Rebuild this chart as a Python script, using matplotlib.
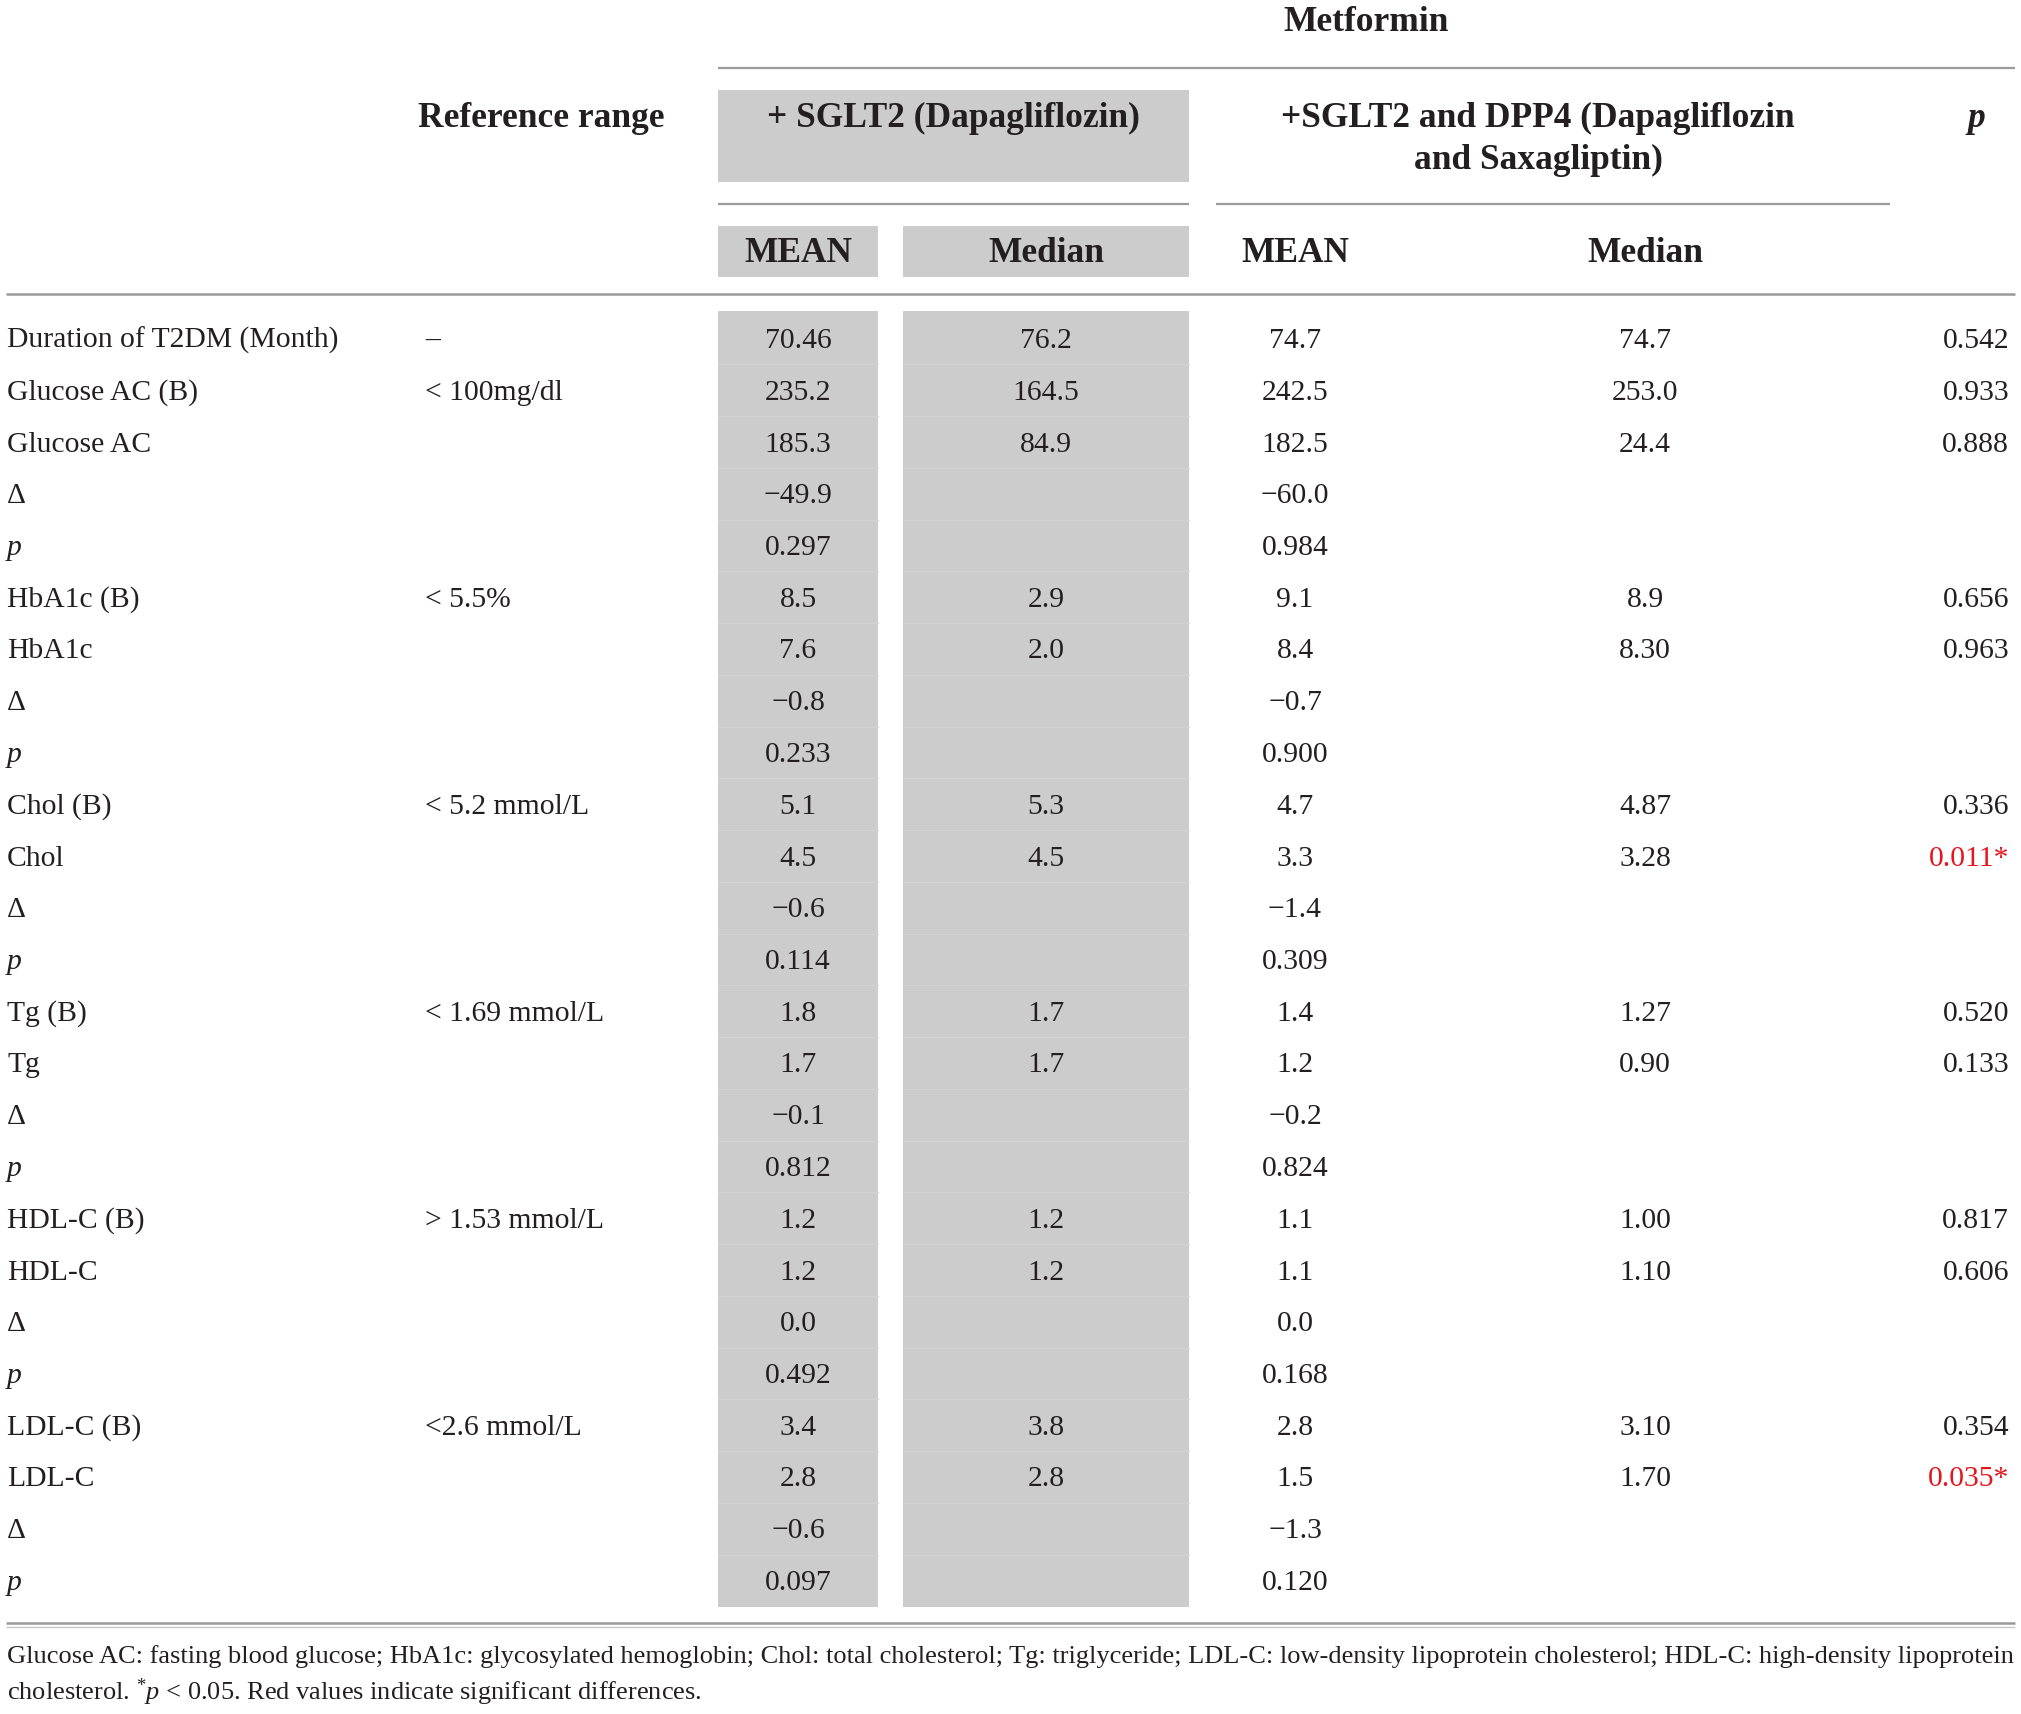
import matplotlib
matplotlib.use("Agg")
import matplotlib.pyplot as plt
from matplotlib.patches import Rectangle

plt.rcParams['font.family'] = ['Liberation Serif', 'DejaVu Serif']
plt.rcParams['mathtext.fontset'] = 'custom'
plt.rcParams['mathtext.rm'] = 'Liberation Serif'
plt.rcParams['mathtext.it'] = 'Liberation Serif:italic'

# ---------------- data ----------------
row_labels = ["Duration of T2DM (Month)", "Glucose AC (B)", "Glucose AC", "Δ", "p",
              "HbA1c (B)", "HbA1c", "Δ", "p",
              "Chol (B)", "Chol", "Δ", "p",
              "Tg (B)", "Tg", "Δ", "p",
              "HDL-C (B)", "HDL-C", "Δ", "p",
              "LDL-C (B)", "LDL-C", "Δ", "p"]
ref_range = ["–", "< 100mg/dl", "", "", "",
             "< 5.5%", "", "", "",
             "< 5.2 mmol/L", "", "", "",
             "< 1.69 mmol/L", "", "", "",
             "> 1.53 mmol/L", "", "", "",
             "<2.6 mmol/L", "", "", ""]
sglt2_mean = ["70.46", "235.2", "185.3", "−49.9", "0.297",
              "8.5", "7.6", "−0.8", "0.233",
              "5.1", "4.5", "−0.6", "0.114",
              "1.8", "1.7", "−0.1", "0.812",
              "1.2", "1.2", "0.0", "0.492",
              "3.4", "2.8", "−0.6", "0.097"]
sglt2_median = ["76.2", "164.5", "84.9", "", "",
                "2.9", "2.0", "", "",
                "5.3", "4.5", "", "",
                "1.7", "1.7", "", "",
                "1.2", "1.2", "", "",
                "3.8", "2.8", "", ""]
dual_mean = ["74.7", "242.5", "182.5", "−60.0", "0.984",
             "9.1", "8.4", "−0.7", "0.900",
             "4.7", "3.3", "−1.4", "0.309",
             "1.4", "1.2", "−0.2", "0.824",
             "1.1", "1.1", "0.0", "0.168",
             "2.8", "1.5", "−1.3", "0.120"]
dual_median = ["74.7", "253.0", "24.4", "", "",
               "8.9", "8.30", "", "",
               "4.87", "3.28", "", "",
               "1.27", "0.90", "", "",
               "1.00", "1.10", "", "",
               "3.10", "1.70", "", ""]
p_values = ["0.542", "0.933", "0.888", "", "",
            "0.656", "0.963", "", "",
            "0.336", "0.011*", "", "",
            "0.520", "0.133", "", "",
            "0.817", "0.606", "", "",
            "0.354", "0.035*", "", ""]

title_top = "Metformin"
hdr_ref = "Reference range"
hdr_g1 = "+ SGLT2 (Dapagliflozin)"
hdr_g2 = ["+SGLT2 and DPP4 (Dapagliflozin", "and Saxagliptin)"]
hdr_p = "p"
hdr_sub = ["MEAN", "Median", "MEAN", "Median"]
footnote = ["Glucose AC: fasting blood glucose; HbA1c: glycosylated hemoglobin; Chol: total cholesterol; "
            "Tg: triglyceride; LDL-C: low-density lipoprotein cholesterol; HDL-C: high-density lipoprotein",
            r"cholesterol. $^{*}\mathit{p}$ < 0.05. Red values indicate significant differences."]

# ---------------- layout ----------------
W, H = 2021, 1714
fig = plt.figure(figsize=(W / 100, H / 100), dpi=100)
ax = fig.add_axes([0, 0, 1, 1])
ax.set_xlim(0, W)
ax.set_ylim(H, 0)
ax.axis('off')

GRAY = '#cccccc'
LINE = '#9a9a9a'
TXT = '#231f20'
RED = '#e8141c'
HS = 25.5   # header font size
BS = 21.3   # body font size
FS = 19.0   # footnote font size

# column geometry
c_mean1 = (718, 878)
c_med1 = (903, 1189)
x_label = 7
x_ref = 425
x_mean2 = 1295
x_med2 = 1645
x_p_right = 2009

# header
ax.text(1366, 31, title_top, ha='center', va='baseline', fontsize=HS, fontweight='bold', color=TXT)
ax.plot([718, 2015], [68, 68], color=LINE, lw=1.6, solid_capstyle='butt')
ax.add_patch(Rectangle((c_mean1[0], 90), c_med1[1] - c_mean1[0], 92, color=GRAY, lw=0))
ax.text(541, 127, hdr_ref, ha='center', va='baseline', fontsize=HS, fontweight='bold', color=TXT)
ax.text((c_mean1[0] + c_med1[1]) / 2, 127, hdr_g1, ha='center', va='baseline', fontsize=HS,
        fontweight='bold', color=TXT)
ax.text(1538, 127, hdr_g2[0], ha='center', va='baseline', fontsize=HS, fontweight='bold', color=TXT)
ax.text(1538, 169, hdr_g2[1], ha='center', va='baseline', fontsize=HS, fontweight='bold', color=TXT)
ax.text(1976, 127, hdr_p, ha='center', va='baseline', fontsize=HS, fontweight='bold',
        fontstyle='italic', color=TXT)
ax.plot([c_mean1[0], c_med1[1]], [204, 204], color=LINE, lw=1.6, solid_capstyle='butt')
ax.plot([1216, 1890], [204, 204], color=LINE, lw=1.6, solid_capstyle='butt')
for (a, b) in (c_mean1, c_med1):
    ax.add_patch(Rectangle((a, 226), b - a, 51, color=GRAY, lw=0))
sub_x = [sum(c_mean1) / 2, sum(c_med1) / 2, x_mean2, x_med2]
for x, s in zip(sub_x, hdr_sub):
    ax.text(x, 262, s, ha='center', va='baseline', fontsize=HS, fontweight='bold', color=TXT)
ax.plot([6, 2015], [294, 294], color=LINE, lw=1.8, solid_capstyle='butt')

# body
n = len(row_labels)
y0, dy = 338.5, 51.75
body_top, body_bot = 311, 1607
for (a, b) in (c_mean1, c_med1):
    ax.add_patch(Rectangle((a, body_top), b - a, body_bot - body_top, color=GRAY, lw=0))
    for i in range(n - 1):
        ys = y0 + dy * (i + 0.5)
        ax.plot([a, b], [ys, ys], color='#d3d3d3', lw=0.8)

for i in range(n):
    yb = y0 + dy * i + 9.5
    lab = row_labels[i]
    ax.text(x_label, yb, lab, ha='left', va='baseline', fontsize=BS, color=TXT,
            fontstyle='italic' if lab == 'p' else 'normal')
    if ref_range[i]:
        ax.text(x_ref, yb, ref_range[i], ha='left', va='baseline', fontsize=BS, color=TXT)
    for x, col in zip(sub_x, (sglt2_mean, sglt2_median, dual_mean, dual_median)):
        if col[i]:
            ax.text(x, yb, col[i], ha='center', va='baseline', fontsize=BS, color=TXT)
    if p_values[i]:
        sig = p_values[i].endswith('*')
        ax.text(x_p_right, yb, p_values[i], ha='right', va='baseline', fontsize=BS,
                color=RED if sig else TXT)

# bottom rule and footnote
ax.plot([6, 2015], [1623, 1623], color=LINE, lw=1.8, solid_capstyle='butt')
ax.plot([6, 2015], [1627, 1627], color='#c8c8c8', lw=1.0, solid_capstyle='butt')
ax.text(7, 1663, footnote[0], ha='left', va='baseline', fontsize=FS, color=TXT)
ax.text(7, 1700, footnote[1], ha='left', va='baseline', fontsize=FS, color=TXT)

fig.savefig('out.png', dpi=100, facecolor='white')
